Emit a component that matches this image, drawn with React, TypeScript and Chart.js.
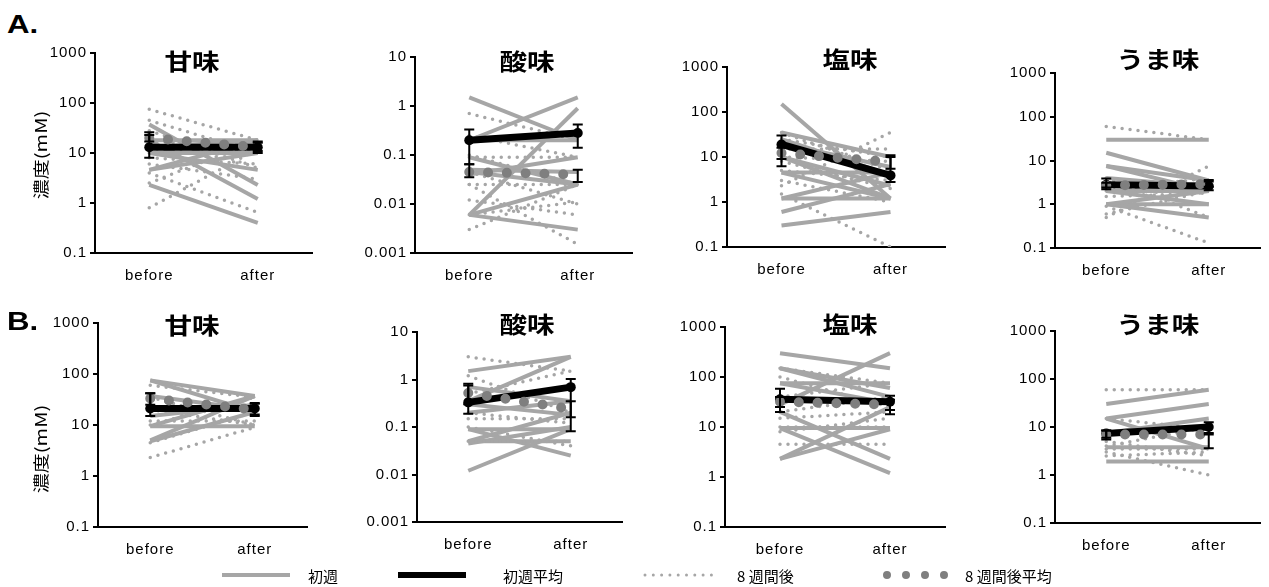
import React, { useEffect, useRef } from 'react';
import { Chart, registerables } from 'chart.js';

Chart.register(...registerables);

// ---------- text ----------
const categories = ['before', 'after'];
const tasteNames = ['甘味', '酸味', '塩味', 'うま味'];
const panelGroups = ['A.', 'B.'];
const yAxisTitle = '濃度(mM)';
const legendLabels = ['初週', '初週平均', '8 週間後', '8 週間後平均'];

// ---------- tick values ----------
const ticksWide = [0.1, 1, 10, 100, 1000];
const ticksSour = [0.001, 0.01, 0.1, 1, 10];

// ---------- A. 甘味 ----------
const aSweetFirst = [[37, 2.3], [18, 1.2], [10, 4.6], [4.6, 18], [2.3, 0.4], [10, 10], [18, 18], [4.6, 10], [13, 18]];
const aSweetWeek8 = [[75, 18], [45, 10], [28, 5], [18, 10], [10, 18], [8, 6], [4, 0.65], [2.5, 18], [0.8, 12], [12, 18], [6, 3]];
const aSweetFirstMean = [13, 13];
const aSweetFirstErr = [[8, 26], [10, 17]];
const aSweetWeek8Mean = [20, 13];
const aSweetWeek8Err = [[17, 23], [11, 16]];

// ---------- A. 酸味 ----------
const aSourFirst = [[1.5, 0.2], [0.2, 1.5], [0.006, 0.9], [0.006, 0.003], [0.006, 0.025], [0.09, 0.025], [0.05, 0.045], [0.04, 0.09], [0.2, 0.2], [0.045, 0.025]];
const aSourWeek8 = [[0.7, 0.2], [0.09, 0.09], [0.025, 0.025], [0.003, 0.025], [0.025, 0.0015], [0.006, 0.011], [0.012, 0.006], [0.25, 0.09], [0.045, 0.01], [0.1, 0.025]];
const aSourFirstMean = [0.2, 0.28];
const aSourFirstErr = [[0.065, 0.33], [0.14, 0.42]];
const aSourWeek8Mean = [0.045, 0.04];
const aSourWeek8Err = [[0.035, 0.065], [0.028, 0.05]];

// ---------- A. 塩味 ----------
const aSaltFirst = [[150, 1.2], [35, 10], [25, 4], [10, 2.3], [4.5, 4.5], [1.2, 1.2], [1.2, 4.5], [0.6, 2.5], [0.3, 0.6], [10, 1.2], [4.5, 1.2], [20, 6]];
const aSaltWeek8 = [[35, 5], [2.3, 35], [1.5, 0.1], [25, 10], [10, 8], [5, 3], [3, 1], [8, 2], [15, 15]];
const aSaltFirstMean = [19, 3.9];
const aSaltFirstErr = [[6.2, 30], [2.8, 11]];
const aSaltWeek8Mean = [12.3, 7.7];
const aSaltWeek8Err = [[9, 16], [5.5, 10]];

// ---------- A. うま味 ----------
const aUmamiFirst = [[30, 30], [15, 3.5], [7.5, 3.5], [4, 2.5], [2, 2], [1, 2], [1, 1], [1, 0.5], [2, 1], [7.5, 2]];
const aUmamiWeek8 = [[60, 30], [0.5, 7.5], [0.9, 0.13], [0.6, 2], [4, 0.5], [2, 4], [1.5, 1.8]];
const aUmamiFirstMean = [2.8, 2.6];
const aUmamiFirstErr = [[2.2, 3.9], [2.1, 3.6]];
const aUmamiWeek8Mean = [2.7, 2.9];
const aUmamiWeek8Err = [[2.4, 3.1], [2.5, 3.3]];

// ---------- B. 甘味 ----------
const bSweetFirst = [[75, 18], [75, 37], [37, 20], [9.5, 37], [4.8, 18], [9.5, 9.5], [20, 20], [5, 37], [15, 25]];
const bSweetWeek8 = [[2.3, 9], [4.5, 18], [60, 35], [35, 10], [10, 35], [20, 10], [12, 12]];
const bSweetFirstMean = [21, 21];
const bSweetFirstErr = [[15, 42], [16, 27]];
const bSweetWeek8Mean = [33, 20];
const bSweetWeek8Err = [[25, 42], [15, 26]];

// ---------- B. 酸味 ----------
const bSourFirst = [[1.5, 3], [0.35, 3], [0.7, 0.35], [0.2, 0.35], [0.09, 0.09], [0.09, 0.025], [0.05, 0.05], [0.05, 0.2], [0.012, 0.09], [0.045, 0.1], [0.3, 0.18]];
const bSourWeek8 = [[3, 1.5], [1.2, 0.2], [0.15, 0.15], [0.1, 0.04], [0.05, 0.05], [0.2, 0.12], [0.5, 1.5]];
const bSourFirstMean = [0.33, 0.69];
const bSourFirstErr = [[0.19, 0.81], [0.081, 1.02]];
const bSourWeek8Mean = [0.52, 0.24];
const bSourWeek8Err = [[0.3, 0.75], [0.16, 0.35]];

// ---------- B. 塩味 ----------
const bSaltFirst = [[300, 150], [150, 40], [75, 75], [28, 300], [20, 2.3], [9.5, 1.2], [2.3, 9], [2.3, 25], [9.5, 9.5], [150, 60], [75, 30]];
const bSaltWeek8 = [[150, 75], [40, 75], [20, 40], [10, 10], [4.5, 4.5], [15, 20], [100, 25], [8, 15]];
const bSaltFirstMean = [36, 32];
const bSaltFirstErr = [[20, 58], [18, 42]];
const bSaltWeek8Mean = [32, 28];
const bSaltWeek8Err = [[25, 40], [22, 35]];

// ---------- B. うま味 ----------
const bUmamiFirst = [[30, 60], [15, 30], [15, 3.5], [7.5, 15], [3.8, 3.8], [1.9, 1.9], [7.5, 10]];
const bUmamiWeek8 = [[60, 60], [15, 9], [3, 1], [2.5, 3], [5, 2.5], [4, 10], [3.5, 3.5]];
const bUmamiFirstMean = [7.3, 10];
const bUmamiFirstErr = [[5.5, 8.5], [7.5, 12.5]];
const bUmamiWeek8Mean = [7, 7];
const bUmamiWeek8Err = [[6, 8.5], [3.6, 7]];

// ---------- layout (pixels) ----------
const Y_AXIS_W = 60;
const PAD_TOP = 12;
const X_AXIS_H = 40;
const GRAY = '#a6a6a6';
const MEAN8 = '#7f7f7f';
const TICK_FONT = '"Liberation Sans", Arial, sans-serif';
const CJK_FONT = '"Noto Sans CJK JP", "Noto Sans", sans-serif';

type Panel = {
  title: string; ticks: number[];
  first: number[][]; week8: number[][];
  firstMean: number[]; firstErr: number[][];
  week8Mean: number[]; week8Err: number[][];
  axisX: number; top: number; bottom: number; right: number;
  titleX: number; titleY: number;
};

const panels: Panel[] = [
  { title: tasteNames[0], ticks: ticksWide, first: aSweetFirst, week8: aSweetWeek8, firstMean: aSweetFirstMean, firstErr: aSweetFirstErr, week8Mean: aSweetWeek8Mean, week8Err: aSweetWeek8Err, axisX: 95, top: 53, bottom: 253, right: 317, titleX: 192, titleY: 60 },
  { title: tasteNames[1], ticks: ticksSour, first: aSourFirst, week8: aSourWeek8, firstMean: aSourFirstMean, firstErr: aSourFirstErr, week8Mean: aSourWeek8Mean, week8Err: aSourWeek8Err, axisX: 415, top: 57, bottom: 253, right: 637, titleX: 527, titleY: 60 },
  { title: tasteNames[2], ticks: ticksWide, first: aSaltFirst, week8: aSaltWeek8, firstMean: aSaltFirstMean, firstErr: aSaltFirstErr, week8Mean: aSaltWeek8Mean, week8Err: aSaltWeek8Err, axisX: 727, top: 67, bottom: 247, right: 950, titleX: 850, titleY: 58 },
  { title: tasteNames[3], ticks: ticksWide, first: aUmamiFirst, week8: aUmamiWeek8, firstMean: aUmamiFirstMean, firstErr: aUmamiFirstErr, week8Mean: aUmamiWeek8Mean, week8Err: aUmamiWeek8Err, axisX: 1055, top: 73, bottom: 248, right: 1265, titleX: 1158, titleY: 58 },
  { title: tasteNames[0], ticks: ticksWide, first: bSweetFirst, week8: bSweetWeek8, firstMean: bSweetFirstMean, firstErr: bSweetFirstErr, week8Mean: bSweetWeek8Mean, week8Err: bSweetWeek8Err, axisX: 98, top: 323, bottom: 527, right: 312, titleX: 192, titleY: 324 },
  { title: tasteNames[1], ticks: ticksSour, first: bSourFirst, week8: bSourWeek8, firstMean: bSourFirstMean, firstErr: bSourFirstErr, week8Mean: bSourWeek8Mean, week8Err: bSourWeek8Err, axisX: 417, top: 332, bottom: 522, right: 627, titleX: 527, titleY: 323 },
  { title: tasteNames[2], ticks: ticksWide, first: bSaltFirst, week8: bSaltWeek8, firstMean: bSaltFirstMean, firstErr: bSaltFirstErr, week8Mean: bSaltWeek8Mean, week8Err: bSaltWeek8Err, axisX: 725, top: 327, bottom: 527, right: 950, titleX: 850, titleY: 323 },
  { title: tasteNames[3], ticks: ticksWide, first: bUmamiFirst, week8: bUmamiWeek8, firstMean: bUmamiFirstMean, firstErr: bUmamiFirstErr, week8Mean: bUmamiWeek8Mean, week8Err: bUmamiWeek8Err, axisX: 1055, top: 331, bottom: 523, right: 1265, titleX: 1158, titleY: 323 },
];

const errorBarPlugin = {
  id: 'errorBars',
  beforeDraw(chart: any) {
    try { (chart.ctx as any).letterSpacing = '1px'; } catch (e) { /* ignore */ }
  },
  afterDatasetsDraw(chart: any, _args: any, opts: any) {
    const bars = opts && opts.bars ? opts.bars : [];
    const ctx = chart.ctx;
    const xs = chart.scales.x;
    const ys = chart.scales.y;
    ctx.save();
    ctx.strokeStyle = '#000';
    ctx.lineWidth = 2;
    bars.forEach((set: number[][]) => {
      set.forEach((range, i) => {
        const x = xs.getPixelForValue(i);
        const y1 = ys.getPixelForValue(range[0]);
        const y2 = ys.getPixelForValue(range[1]);
        ctx.beginPath();
        ctx.moveTo(x, y1); ctx.lineTo(x, y2);
        ctx.moveTo(x - 5, y1); ctx.lineTo(x + 5, y1);
        ctx.moveTo(x - 5, y2); ctx.lineTo(x + 5, y2);
        ctx.stroke();
      });
    });
    ctx.restore();
  },
};

function buildConfig(p: Panel): any {
  const datasets: any[] = [];
  datasets.push({ label: legendLabels[3], data: p.week8Mean, borderColor: MEAN8, borderWidth: 10, borderDash: [0, 18.8], borderCapStyle: 'round', pointRadius: 0, fill: false });
  datasets.push({ label: legendLabels[1], data: p.firstMean, borderColor: '#000', borderWidth: 7, pointRadius: 5, pointBackgroundColor: '#000', pointBorderWidth: 0, fill: false });
  p.week8.forEach((pair) => datasets.push({ label: legendLabels[2], data: pair, borderColor: GRAY, borderWidth: 3.5, borderDash: [0, 8], borderCapStyle: 'round', pointRadius: 0, fill: false }));
  p.first.forEach((pair) => datasets.push({ label: legendLabels[0], data: pair, borderColor: GRAY, borderWidth: 4, pointRadius: 0, fill: false }));
  return {
    type: 'line',
    data: { labels: categories, datasets },
    plugins: [errorBarPlugin],
    options: {
      animation: false,
      responsive: false,
      events: [],
      layout: { padding: { top: PAD_TOP, left: 0, right: 0, bottom: 0 } },
      plugins: {
        legend: { display: false },
        tooltip: { enabled: false },
        title: { display: false },
        errorBars: { bars: [p.firstErr, p.week8Err] },
      },
      scales: {
        x: {
          type: 'category',
          offset: true,
          grid: { display: false, drawTicks: false },
          border: { display: true, color: '#000', width: 2 },
          ticks: { color: '#000', font: { family: TICK_FONT, size: 15 }, padding: 14, autoSkip: false, maxRotation: 0 },
          afterFit: (s: any) => { s.height = X_AXIS_H; },
        },
        y: {
          type: 'logarithmic',
          min: p.ticks[0],
          max: p.ticks[p.ticks.length - 1],
          grid: { display: true, drawOnChartArea: false, drawTicks: true, tickLength: 5, color: '#000', lineWidth: 2 },
          border: { display: true, color: '#000', width: 2 },
          ticks: { color: '#000', font: { family: TICK_FONT, size: 15 }, padding: 3, autoSkip: false, callback: (v: any) => String(v) },
          afterBuildTicks: (s: any) => { s.ticks = p.ticks.map((v) => ({ value: v })); },
          afterFit: (s: any) => { s.width = Y_AXIS_W; },
        },
      },
    },
  };
}

function PanelChart({ p }: { p: Panel }) {
  const ref = useRef<HTMLCanvasElement | null>(null);
  const w = p.right - p.axisX + Y_AXIS_W;
  const h = p.bottom - p.top + PAD_TOP + X_AXIS_H;
  useEffect(() => {
    if (!ref.current) return;
    const chart = new Chart(ref.current, buildConfig(p));
    return () => chart.destroy();
  }, []);
  return (
    <>
      <canvas
        ref={ref}
        width={w}
        height={h}
        style={{ position: 'absolute', left: p.axisX - Y_AXIS_W, top: p.top - PAD_TOP, width: w + 'px', height: h + 'px' }}
      />
      <div
        style={{
          position: 'absolute', left: p.titleX, top: p.titleY, transform: 'translate(-50%, -50%) scaleX(1.2)',
          font: `bold 23px ${CJK_FONT}`, color: '#000', whiteSpace: 'nowrap', lineHeight: 1,
        }}
      >
        {p.title}
      </div>
    </>
  );
}

function Legend() {
  const y = 575;
  const text = (s: string, left: number) => (
    <div style={{ position: 'absolute', left, top: y, transform: 'translateY(-50%)', font: `15px ${CJK_FONT}`, color: '#000', whiteSpace: 'nowrap', lineHeight: 1 }}>{s}</div>
  );
  return (
    <>
      <svg style={{ position: 'absolute', left: 0, top: y - 10, overflow: 'visible' }} width={1269} height={20}>
        <line x1={222} y1={10} x2={290} y2={10} stroke={GRAY} strokeWidth={4} />
        <line x1={398} y1={10} x2={466} y2={10} stroke="#000" strokeWidth={6} />
        <line x1={645} y1={10} x2={712} y2={10} stroke={GRAY} strokeWidth={3} strokeDasharray="0 8.3" strokeLinecap="round" />
        <line x1={887} y1={10} x2={945} y2={10} stroke={MEAN8} strokeWidth={8} strokeDasharray="0 19" strokeLinecap="round" />
      </svg>
      {text(legendLabels[0], 308)}
      {text(legendLabels[1], 503)}
      {text(legendLabels[2], 737)}
      {text(legendLabels[3], 965)}
    </>
  );
}

export default function App() {
  const groupStyle = (top: number): React.CSSProperties => ({
    position: 'absolute', left: 7, top, font: 'bold 26px "Liberation Sans", Arial, sans-serif', color: '#000',
    transform: 'scaleX(1.2)', transformOrigin: 'left top', lineHeight: 1,
  });
  const yTitleStyle = (cy: number): React.CSSProperties => ({
    position: 'absolute', left: 40, top: cy, transform: 'translate(-50%, -50%) rotate(-90deg) scaleX(1.25)',
    font: `16px ${CJK_FONT}`, color: '#000', whiteSpace: 'nowrap', lineHeight: 1,
  });
  return (
    <div style={{ position: 'absolute', left: 0, top: 0, width: 1269, height: 587, background: '#fff', overflow: 'hidden' }}>
      {panels.map((p, i) => <PanelChart key={i} p={p} />)}
      <div style={groupStyle(11)}>{panelGroups[0]}</div>
      <div style={groupStyle(308)}>{panelGroups[1]}</div>
      <div style={yTitleStyle(155)}>{yAxisTitle}</div>
      <div style={yTitleStyle(449)}>{yAxisTitle}</div>
      <Legend />
    </div>
  );
}
